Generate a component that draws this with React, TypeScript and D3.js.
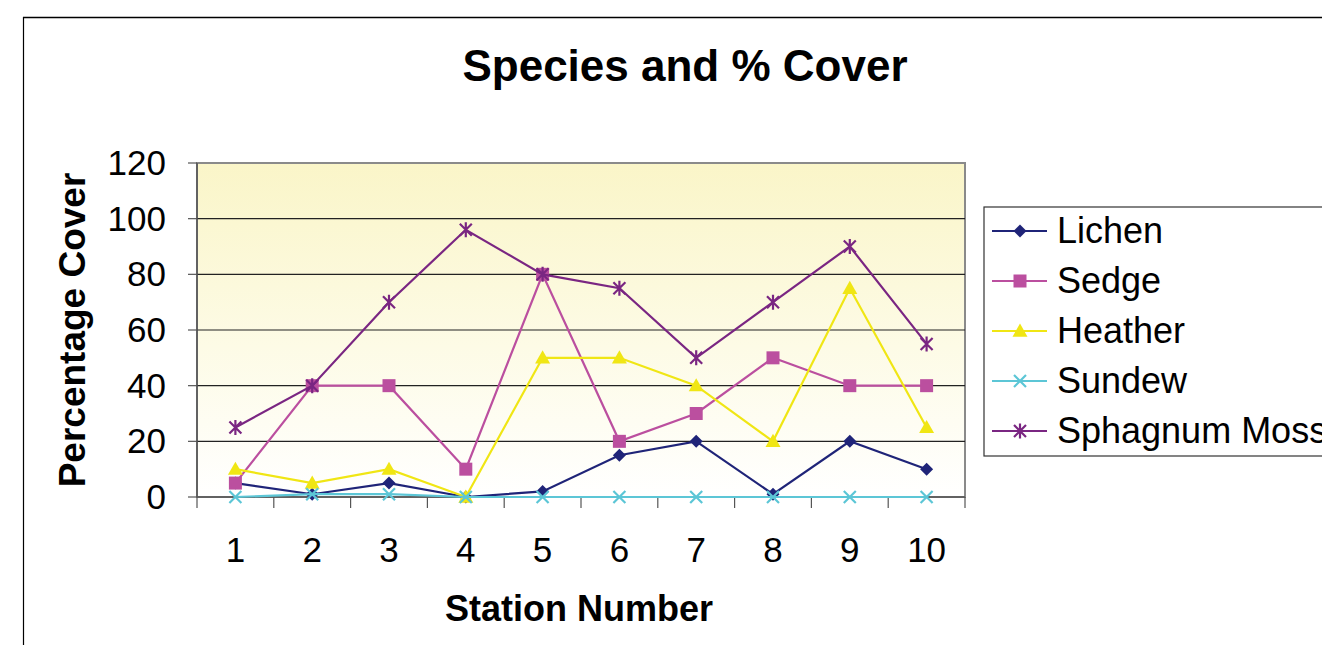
import React from "react";
import * as d3 from "d3";

const stations = ["1", "2", "3", "4", "5", "6", "7", "8", "9", "10"];
const lichen = [5, 1, 5, 0, 2, 15, 20, 1, 20, 10];
const sedge = [5, 40, 40, 10, 80, 20, 30, 50, 40, 40];
const heather = [10, 5, 10, 0, 50, 50, 40, 20, 75, 25];
const sundew = [0, 1, 1, 0, 0, 0, 0, 0, 0, 0];
const sphagnum = [25, 40, 70, 96, 80, 75, 50, 70, 90, 55];
const yTicks = [0, 20, 40, 60, 80, 100, 120];

const seriesNames = ["Lichen", "Sedge", "Heather", "Sundew", "Sphagnum Moss"];
const seriesValues = [lichen, sedge, heather, sundew, sphagnum];
const seriesColors = ["#1f2478", "#bb4f9f", "#f0e614", "#5cc6d6", "#7a2682"];
const seriesMarkers = ["diamond", "square", "triangle", "x", "star"];

const FONT = "'Liberation Sans', Arial, sans-serif";

function Marker({ type, x, y, color }: { type: string; x: number; y: number; color: string }) {
  if (type === "diamond") {
    const s = 6.5;
    return <path d={`M${x},${y - s}L${x + s},${y}L${x},${y + s}L${x - s},${y}Z`} fill={color} />;
  }
  if (type === "square") {
    const s = 6.5;
    return <rect x={x - s} y={y - s} width={2 * s} height={2 * s} fill={color} />;
  }
  if (type === "triangle") {
    const s = 7.5;
    return <path d={`M${x},${y - s}L${x + s},${y + s * 0.75}L${x - s},${y + s * 0.75}Z`} fill={color} />;
  }
  if (type === "x") {
    const s = 6;
    return (
      <path d={`M${x - s},${y - s}L${x + s},${y + s}M${x - s},${y + s}L${x + s},${y - s}`} stroke={color} strokeWidth={2.2} />
    );
  }
  const s = 6;
  return (
    <path
      d={`M${x - s},${y - s}L${x + s},${y + s}M${x - s},${y + s}L${x + s},${y - s}M${x},${y - s - 1.5}L${x},${y + s + 1.5}`}
      stroke={color}
      strokeWidth={2.2}
    />
  );
}

export default function App() {
  const left = 197;
  const right = 965;
  const top = 163;
  const bottom = 497;

  const x = d3.scaleBand<string>().domain(stations).range([left, right]);
  const y = d3.scaleLinear().domain([0, 120]).range([bottom, top]);
  const line = d3
    .line<number>()
    .x((_, i) => (x(stations[i]) as number) + x.bandwidth() / 2)
    .y((d) => y(d));

  const legendX = 984;
  const legendY = 207;
  const legendRowY = (i: number) => 231 + i * 50;

  return (
    <svg
      width={1322}
      height={645}
      style={{ position: "absolute", left: 0, top: 0, background: "#fff" }}
      fontFamily={FONT}
    >
      <defs>
        <linearGradient id="bg" x1="0" y1="0" x2="0" y2="1">
          <stop offset="0" stopColor="#faf5c8" />
          <stop offset="0.55" stopColor="#fdfbe6" />
          <stop offset="1" stopColor="#ffffff" />
        </linearGradient>
      </defs>
      {/* outer frame */}
      <line x1={23} y1={17.5} x2={1322} y2={17.5} stroke="#000" strokeWidth={1.5} />
      <line x1={23.5} y1={17} x2={23.5} y2={645} stroke="#000" strokeWidth={1.2} />

      <text x={685} y={81} textAnchor="middle" fontSize={44} fontWeight="bold">
        Species and % Cover
      </text>

      {/* plot area */}
      <rect x={left} y={top} width={right - left} height={bottom - top} fill="url(#bg)" stroke="#8a8a8a" strokeWidth={2} />
      {yTicks.slice(1, -1).map((t) => (
        <line key={t} x1={left} x2={right} y1={y(t)} y2={y(t)} stroke="#222" strokeWidth={1.2} />
      ))}
      {/* y axis */}
      <line x1={left} x2={left} y1={top} y2={bottom} stroke="#555" strokeWidth={1.5} />
      {yTicks.map((t) => (
        <g key={t}>
          <line x1={left - 9} x2={left} y1={y(t)} y2={y(t)} stroke="#555" strokeWidth={1.2} />
          <text x={166} y={y(t) + 12} textAnchor="end" fontSize={35}>
            {t}
          </text>
        </g>
      ))}
      {/* x axis */}
      <line x1={left} x2={right} y1={bottom} y2={bottom} stroke="#555" strokeWidth={1.5} />
      {stations.map((s) => (
        <line
          key={"t" + s}
          x1={x(s) as number}
          x2={x(s) as number}
          y1={bottom}
          y2={bottom + 11}
          stroke="#555"
          strokeWidth={1.2}
        />
      ))}
      <line x1={right} x2={right} y1={bottom} y2={bottom + 11} stroke="#555" strokeWidth={1.2} />
      {stations.map((s) => (
        <text key={"l" + s} x={(x(s) as number) + x.bandwidth() / 2} y={562} textAnchor="middle" fontSize={35}>
          {s}
        </text>
      ))}

      <text x={579} y={621} textAnchor="middle" fontSize={36} fontWeight="bold">
        Station Number
      </text>
      <text transform={`translate(85,330) rotate(-90)`} textAnchor="middle" fontSize={37} fontWeight="bold">
        Percentage Cover
      </text>

      {/* series */}
      {seriesValues.map((vals, si) => (
        <g key={seriesNames[si]}>
          <path d={line(vals) as string} fill="none" stroke={seriesColors[si]} strokeWidth={2.2} />
          {vals.map((v, i) => (
            <Marker
              key={i}
              type={seriesMarkers[si]}
              x={(x(stations[i]) as number) + x.bandwidth() / 2}
              y={y(v)}
              color={seriesColors[si]}
            />
          ))}
        </g>
      ))}

      {/* legend */}
      <rect x={legendX} y={legendY} width={400} height={249} fill="#fff" stroke="#333" strokeWidth={1.2} />
      {seriesNames.map((n, i) => (
        <g key={n}>
          <line x1={992} x2={1047} y1={legendRowY(i)} y2={legendRowY(i)} stroke={seriesColors[i]} strokeWidth={2} />
          <Marker type={seriesMarkers[i]} x={1020} y={legendRowY(i)} color={seriesColors[i]} />
          <text x={1057} y={legendRowY(i) + 12} fontSize={36}>
            {n}
          </text>
        </g>
      ))}
    </svg>
  );
}
